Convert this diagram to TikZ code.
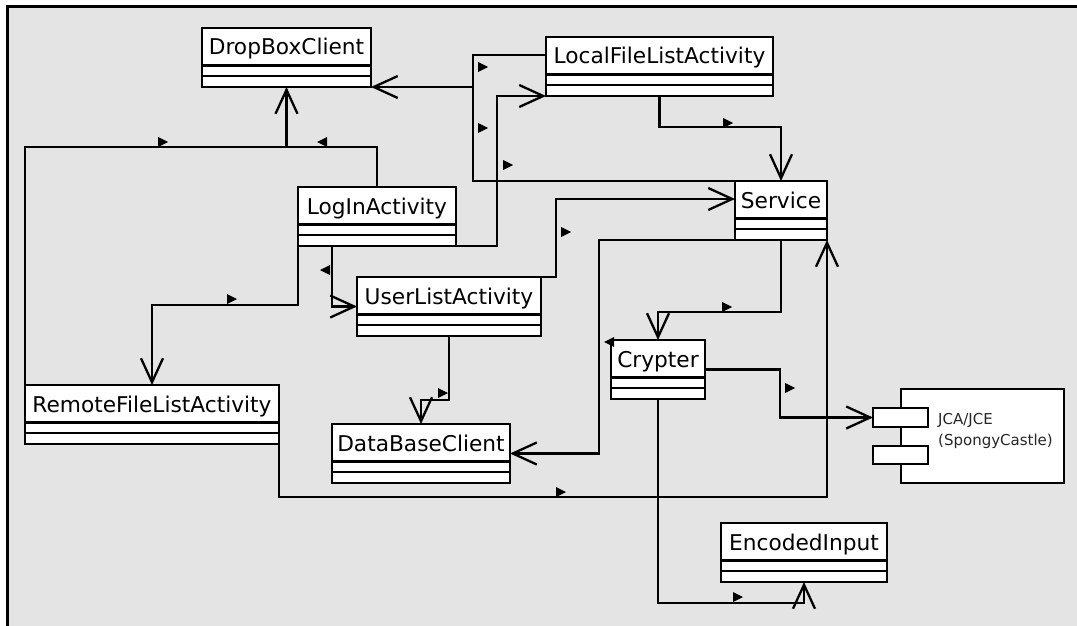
\documentclass[tikz,border=0pt]{standalone}
\usepackage{fontspec}
\setmainfont{DejaVu Sans}
\usetikzlibrary{arrows.meta,calc}
\definecolor{canvas}{RGB}{228,228,228}
\begin{document}
\begin{tikzpicture}[x=1pt,y=-1pt,
  classbox/.style={draw, line width=2.4pt, fill=white, inner xsep=0pt, inner ysep=0pt, outer sep=0pt,
    minimum width=#1, text height=27pt, text depth=32pt,
    font=\fontsize{21.7}{26}\selectfont, anchor=north west,
    path picture={\draw[line width=2.4pt]
      ([yshift=-37.5pt]path picture bounding box.north west) -- ([yshift=-37.5pt]path picture bounding box.north east)
      ([yshift=-48pt]path picture bounding box.north west) -- ([yshift=-48pt]path picture bounding box.north east);}},
  portbox/.style={draw, line width=2.4pt, fill=white, inner sep=0pt, outer sep=0pt, anchor=north west},
  conn/.style={line width=2.3pt},
  assoc/.style={conn, -{Straight Barb[length=24pt,width=22pt]}},
  navR/.pic={\fill (-5,-5) -- (5,0) -- (-5,5) -- cycle;},
  navL/.pic={\fill (5,-5) -- (-5,0) -- (5,5) -- cycle;}
]
\useasboundingbox (0,0) rectangle (1077,626);
% canvas with its frame on the top and left
\fill[white] (0,0) rectangle (1077,626);
\fill[canvas] (7,7) rectangle (1077,626);
\draw[line width=3pt] (7,626) -- (7,7) -- (1077,7);

% classes
\node[classbox=169pt] (dbx) at (202,28) {DropBoxClient};
\node[classbox=227pt] (lfla) at (546,37) {LocalFileListActivity};
\node[classbox=158pt] (login) at (298,187) {LogInActivity};
\node[classbox=184pt] (ula) at (357,277) {UserListActivity};
\node[classbox=92pt] (service) at (735,181) {Service};
\node[classbox=94pt] (crypter) at (611,340) {Crypter};
\node[classbox=254pt] (rfla) at (25,385) {RemoteFileListActivity};
\node[classbox=178pt] (dbc) at (332,424) {DataBaseClient};
\node[classbox=166pt] (ei) at (721,523) {EncodedInput};

% component JCA/JCE
\node[portbox, minimum width=163pt, minimum height=94pt] (jca) at (901,389) {};
\node[portbox, minimum width=55pt, minimum height=19pt] (jcap1) at (873,408) {};
\node[portbox, minimum width=55pt, minimum height=18pt] (jcap2) at (873,446) {};
\node[font=\fontsize{15}{21}\selectfont, align=left, anchor=west, inner sep=0pt, text=black!85] (jcatxt) at (938,431) {JCA/JCE\\(SpongyCastle)};

% associations
\coordinate (m1) at (286.5,147);
\draw[conn] (rfla.north west) |- (m1);
\draw[assoc] (login.north) |- (m1) -- (dbx.south);
\draw[assoc] ([yshift=-18pt]lfla.north west) -| (473,87) -- (dbx.south east);
\draw[conn] (service.north west) -| (473,87);
\draw[assoc] (login.south east) -| (497,96) -- (lfla.south west);
\draw[assoc] (lfla.south) -- ++(0,31) -| (service.north);
\draw[assoc] (login.south west) -- ++(0,59) -| (rfla.north);
\draw[assoc] ([xshift=34pt]login.south west) |- (ula.west);
\draw[assoc] (ula.north east) -- ++(15,0) |- ([yshift=-18pt]service.north west);
\draw[assoc] (ula.south) -- ++(0,64) -| (dbc.north);
\draw[assoc] (service.south west) -- ++(-136,0) |- (dbc.east);
\draw[assoc] (service.south) -- ++(0,72) -| (crypter.north);
\draw[assoc] (rfla.south east) -- ++(0,53) -| (service.south east);
\draw[assoc] (crypter.east) -- ++(75,0) |- (jcap1.west);
\draw[assoc] (crypter.south) -- ++(0,204) -| (ei.south);

% navigation markers
\foreach \p in {(163,142),(483,67),(483,128),(508,165),(728,123),(232,299),(566,232),(727,307),(443,393),(790,388),(561,492),(738,597)}
  \pic at \p {navR};
\foreach \p in {(322,142),(325,270),(609,342)}
  \pic at \p {navL};
\end{tikzpicture}
\end{document}
